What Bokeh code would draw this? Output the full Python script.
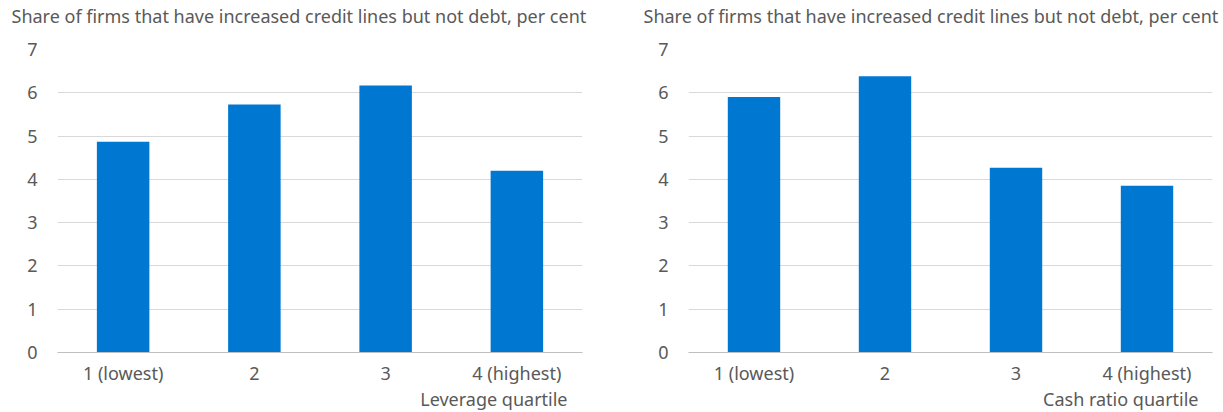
from bokeh.plotting import figure
from bokeh.models import Title, FixedTicker
from bokeh.layouts import row
from bokeh.embed import file_html
from bokeh.resources import INLINE

categories = ["1 (lowest)", "2", "3", "4 (highest)"]
leverage_share = [4.87, 5.73, 6.17, 4.20]
cash_share = [5.90, 6.38, 4.27, 3.85]
title_text = "Share of firms that have increased credit lines but not debt, per cent"
left_xlabel = "Leverage quartile"
right_xlabel = "Cash ratio quartile"

FONT = "Noto Sans"
FS = "18px"
TXT = "#595959"
BAR = "#0078D2"


def make(values, xlabel, width, border_left, border_right, title_offset, xl_offset):
    p = figure(x_range=categories, y_range=(0, 7), width=width, height=412,
               output_backend="svg", toolbar_location=None, title=None,
               min_border_left=border_left, min_border_right=border_right,
               min_border_top=49, min_border_bottom=60)
    spacer = Title(text=" ", text_font_size="1px", standoff=19)
    p.add_layout(spacer, "above")
    main = Title(text=title_text, align="left", offset=title_offset,
                 text_font=FONT, text_font_size=FS, text_color=TXT,
                 text_font_style="normal", standoff=0)
    p.add_layout(main, "above")
    p.vbar(x=categories, top=values, width=0.4, color=BAR, line_color=None)
    p.outline_line_color = None
    p.xgrid.grid_line_color = None
    p.ygrid.grid_line_color = "#D9D9D9"
    p.ygrid.grid_line_width = 1
    p.yaxis.ticker = FixedTicker(ticks=list(range(0, 8)))
    for ax in (p.xaxis, p.yaxis):
        ax.major_tick_line_color = None
        ax.minor_tick_line_color = None
        ax.major_tick_out = 0
        ax.major_tick_in = 0
        ax.minor_tick_out = 0
        ax.minor_tick_in = 0
        ax.major_label_text_font = FONT
        ax.major_label_text_font_size = FS
        ax.major_label_text_color = TXT
    p.yaxis.axis_line_color = None
    p.yaxis.major_label_standoff = 20
    p.xaxis.axis_line_color = "#BFBFBF"
    p.xaxis.axis_line_width = 1
    p.xaxis.major_label_standoff = 8
    p.x_range.range_padding = 0
    xl = Title(text=xlabel, align="right", offset=xl_offset, text_font=FONT,
               text_font_size=FS, text_color=TXT, text_font_style="normal",
               standoff=-6)
    p.add_layout(xl, "below")
    return p


left = make(leverage_share, left_xlabel, 618, 57, 36, -46, 15)
right = make(cash_share, right_xlabel, 605, 70, 11, -45, 14)

layout = row(left, right, spacing=0)
open("out.html", "w").write(file_html(layout, INLINE))
